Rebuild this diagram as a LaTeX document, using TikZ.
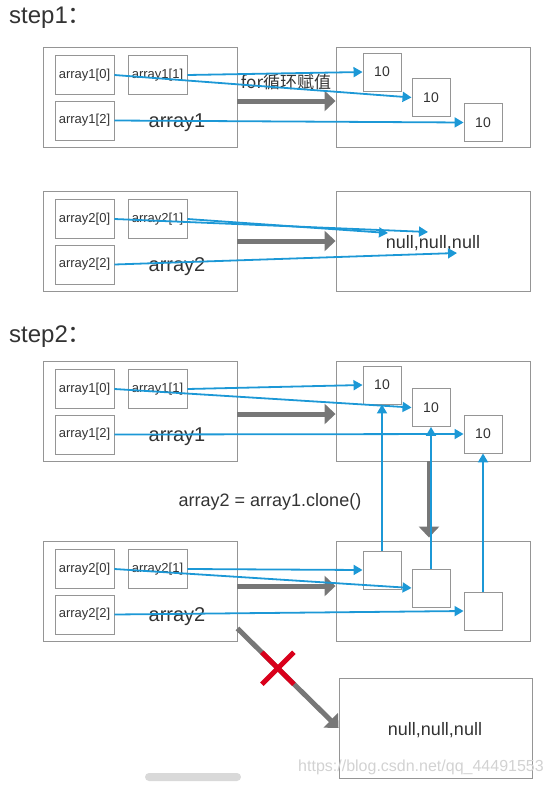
\documentclass[tikz,border=0pt]{standalone}
\usepackage{fontspec}
\setmainfont{Liberation Sans}
\newfontfamily\cjk{Noto Sans CJK SC}
\usetikzlibrary{arrows.meta}
\usetikzlibrary{shapes.misc}
\definecolor{frame}{HTML}{959595}
\definecolor{ptrblue}{HTML}{1C98D6}
\definecolor{flowgray}{HTML}{777777}
\definecolor{crossred}{HTML}{D9001B}
\definecolor{txt}{HTML}{333333}

\begin{document}
\begin{tikzpicture}[x=1pt, y=-1pt,
every node/.style = {text=txt, inner sep=1pt},
arrbox/.style = {draw=frame, line width=0.9pt, minimum width=194pt, minimum height=100pt},
cell/.style = {draw=frame, line width=0.9pt, minimum width=59pt, minimum height=39pt,
  font=\fontsize{13}{15}\selectfont},
val/.style = {draw=frame, line width=0.9pt, minimum width=38pt, minimum height=38pt,
  font=\fontsize{14}{16}\selectfont},
arrname/.style = {font=\fontsize{20}{24}\selectfont, anchor=base},
steptitle/.style = {font=\fontsize{24}{28}\selectfont, anchor=base west},
note/.style = {font=\fontsize{18}{22}\selectfont},
ptr/.style = {-{Triangle[length=9pt,width=10pt]}, draw=ptrblue, line width=1.8pt},
flow/.style = {-{Triangle[length=11pt,width=20pt]}, draw=flowgray, line width=5pt},
nogo/.style = {draw=crossred, cross out, line width=5pt, minimum size=27pt, inner sep=0pt}
]
\useasboundingbox (0,0) rectangle (553,785);

\node[steptitle] at (8,23) {step1{\cjk ：}};
\node[steptitle] at (8,342) {step2{\cjk ：}};

% arrays on the left, heap boxes on the right
\foreach \t/\k/\r in {47/1/A, 191/2/B, 361/1/C, 541/2/D} {
  \node[arrbox] (arr\r) at (140,\t+50) {};
  \node[cell] (arr\r0) at (84.5,\t+28) {array\k[0]};
  \node[cell] (arr\r1) at (157.5,\t+28) {array\k[1]};
  \node[cell] (arr\r2) at (84.5,\t+73.5) {array\k[2]};
  \node[arrname] at (177,\t+80) {array\k};
  \node[arrbox] (heap\r) at (433,\t+50) {};
}
\node[arrbox, minimum width=193pt] (heapE) at (435.5,728) {};

\node[val] (valA0) at (382,72) {10};
\node[val] (valA1) at (431,97.5) {10};
\node[val] (valA2) at (483,122.5) {10};
\node[val] (valC0) at (382,385) {10};
\node[val] (valC1) at (431,407.5) {10};
\node[val] (valC2) at (483,434) {10};
\node[val] (valD0) at (382,570) {};
\node[val] (valD1) at (431,588) {};
\node[val] (valD2) at (483,611) {};

\node[note, font=\cjk\fontsize{17}{20}\selectfont] at (286,82) {for循环赋值};
\node[note] (nullB) at (433,243) {null,null,null};
\node[note] at (270,502) {array2 = array1.clone()};
\node[note] at (435,730) {null,null,null};

\coordinate (nulB0) at (428,232);
\coordinate (nulB1) at (388,233);
\coordinate (nulB2) at (457,253);

% gray flow arrows
\draw[flow] ([yshift=-4pt]arrA.east) -- ([yshift=-4pt]heapA.west);
\draw[flow] (arrB.east) -- (heapB.west);
\draw[flow] ([yshift=-3pt]arrC.east) -- ([yshift=-3pt]heapC.west);
\draw[flow] ([yshift=5pt]arrD.east) -- ([yshift=5pt]heapD.west);
\draw[flow] ([xshift=-4pt]heapC.south) -- ([xshift=-4pt,yshift=3pt]heapD.north);
\draw[flow] ([yshift=13pt]arrD.south east) -- (heapE.west) node[nogo, pos=0.4] {};

% references
\draw[ptr] (arrA1.east) -- (valA0.west);
\draw[ptr] (arrA0.east) -- (valA1.west);
\draw[ptr] (arrA2.east) -- (valA2.west);
\draw[ptr] (arrB0.east) -- (nulB0);
\draw[ptr] (arrB1.east) -- (nulB1);
\draw[ptr] (arrB2.east) -- (nulB2);
\draw[ptr] (arrC1.east) -- (valC0.west);
\draw[ptr] (arrC0.east) -- (valC1.west);
\draw[ptr] (arrC2.east) -- (valC2.west);
\draw[ptr] (arrD1.east) -- (valD0.west);
\draw[ptr] (arrD0.east) -- (valD1.west);
\draw[ptr] (arrD2.east) -- (valD2.west);
\draw[ptr] (valD0.north) -- (valC0.south);
\draw[ptr] (valD1.north) -- (valC1.south);
\draw[ptr] (valD2.north) -- (valC2.south);

\node[text=gray!35, font=\fontsize{16}{18}\selectfont] at (421,767) {https://blog.csdn.net/qq\_44491553};
\fill[gray!30, rounded corners=4pt] (145,773) rectangle (241,781);
\end{tikzpicture}
\end{document}
